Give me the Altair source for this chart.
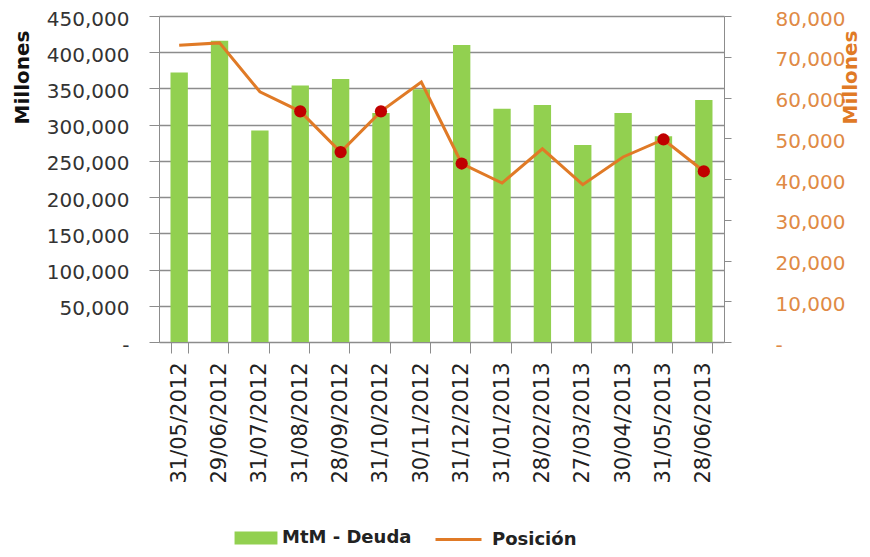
import altair as alt
import pandas as pd

fechas = ["31/05/2012", "29/06/2012", "31/07/2012", "31/08/2012", "28/09/2012",
          "31/10/2012", "30/11/2012", "31/12/2012", "31/01/2013", "28/02/2013",
          "27/03/2013", "30/04/2013", "31/05/2013", "28/06/2013"]
mtm_deuda = [372000, 416000, 292000, 354000, 363000, 316000, 349000,
             410000, 322000, 327000, 272000, 316000, 284000, 334000]
posicion = [72800, 73400, 61400, 56600, 46600, 56600, 63800,
            43800, 39000, 47400, 38600, 45400, 49700, 41900]
marcador = [False, False, False, True, True, True, False,
            True, False, False, False, False, True, True]

df = pd.DataFrame({
    "fecha": fechas,
    "mtm": mtm_deuda,
    "pos": posicion,
    "marca": marcador,
    "s1": ["MtM - Deuda"] * len(fechas),
    "s2": ["Posición"] * len(fechas),
})

FONT = "DejaVu Sans"
GREEN = "#92D050"
ORANGE = "#E07A26"
ORANGE_LBL = "#E08A45"
GRID = "#8C8C8C"

xenc = alt.X(
    "fecha:N", sort=None, title=None,
    scale=alt.Scale(paddingInner=0.57, paddingOuter=0.285),
    axis=alt.Axis(labelAngle=270, tickBand="extent", tickSize=11, labelPadding=9,
                  labelFont=FONT, labelFontSize=21, labelColor="#222222",
                  domainColor=GRID, tickColor=GRID, grid=False),
)

left_axis = alt.Axis(
    values=list(range(0, 450001, 50000)),
    labelExpr="datum.value == 0 ? '-' : format(datum.value, ',')",
    title="Millones", titleFont=FONT, titleFontSize=20, titleFontWeight="bold",
    titleColor="#111111", titleY=61, titlePadding=14,
    labelFont=FONT, labelFontSize=20, labelColor="#333333", labelOffset=3,
    tickSize=10, labelPadding=20, tickColor=GRID, domainColor=GRID,
    grid=True, gridColor=GRID, gridWidth=1.3,
)

right_axis = alt.Axis(
    orient="right",
    values=list(range(0, 80001, 10000)),
    labelExpr="datum.value == 0 ? '-' : format(datum.value, ',')",
    title="Millones", titleFont=FONT, titleFontSize=20, titleFontWeight="bold",
    titleColor=ORANGE, titleAngle=270, titleY=61, titlePadding=16,
    labelFont=FONT, labelFontSize=20, labelColor=ORANGE_LBL, labelOffset=3,
    tickSize=7, labelPadding=44, tickColor=GRID, domainColor=GRID, grid=False,
)

bars = alt.Chart(df).mark_bar().encode(
    x=xenc,
    y=alt.Y("mtm:Q", scale=alt.Scale(domain=[0, 450000], nice=False), axis=left_axis),
    color=alt.Color("s1:N", scale=alt.Scale(range=[GREEN]),
                    legend=alt.Legend(title=None, orient="none", legendX=84, legendY=509,
                                      symbolType="M-1.65,-0.5H1.65V0.5H-1.65Z",
                                      symbolSize=676, symbolStrokeWidth=0,
                                      labelOffset=13, labelFont=FONT, labelFontSize=18,
                                      labelFontWeight="bold", labelColor="#222222")),
)

line = alt.Chart(df).mark_line(strokeWidth=3).encode(
    x=xenc,
    y=alt.Y("pos:Q", scale=alt.Scale(domain=[0, 80000], nice=False), axis=right_axis),
    stroke=alt.Stroke("s2:N", scale=alt.Scale(range=[ORANGE]),
                      legend=alt.Legend(title=None, orient="none", legendX=275, legendY=499,
                                        symbolType="stroke", symbolSize=2116,
                                        symbolStrokeWidth=3, labelOffset=9,
                                        labelFont=FONT, labelFontSize=18,
                                        labelFontWeight="bold", labelColor="#222222")),
)

points = alt.Chart(df).transform_filter("datum.marca").mark_circle(
    size=150, color="#C00000", opacity=1
).encode(
    x=xenc,
    y=alt.Y("pos:Q", scale=alt.Scale(domain=[0, 80000], nice=False), axis=None),
)

chart = alt.layer(bars, line, points).resolve_scale(
    y="independent"
).properties(
    width=565, height=326,
    autosize=alt.AutoSizeParams(type="none"),
    padding={"left": 151, "top": 8, "right": 138, "bottom": 207},
).configure_view(stroke=None)

chart.save("out.html", embed_options={"renderer": "svg", "actions": False})
